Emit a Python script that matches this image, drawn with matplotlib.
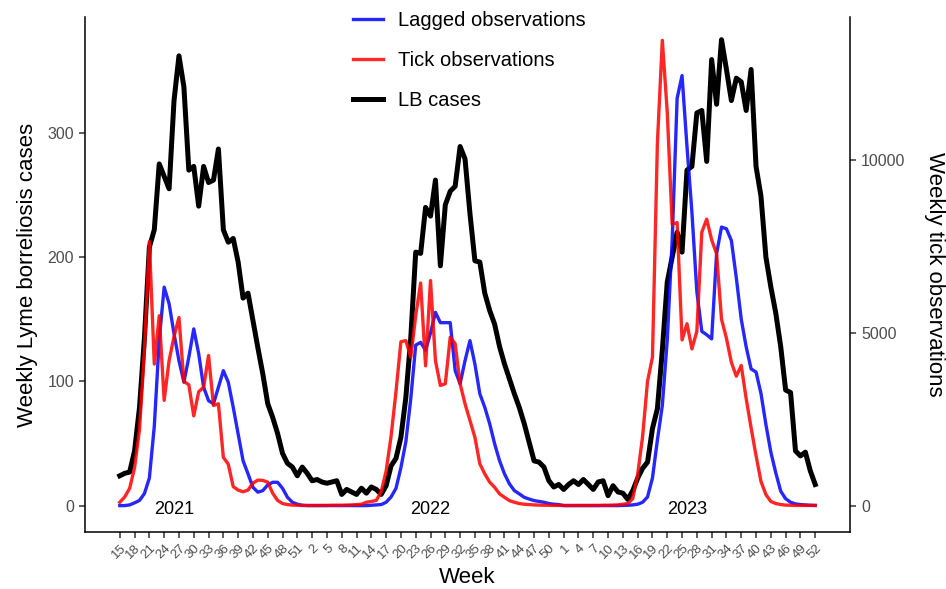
import numpy as np
import matplotlib
matplotlib.use("Agg")
import matplotlib.pyplot as plt

plt.rcParams['font.family'] = ['Liberation Sans', 'DejaVu Sans']

# ==== Données (semaines 15/2021 -> 52/2023) ====
years = [2021] * 38 + [2022] * 52 + [2023] * 52
weeks = list(range(15, 53)) + list(range(1, 53)) + list(range(1, 53))

# Cas hebdomadaires de borréliose de Lyme (axe gauche)
lb_cases = [
    24, 26, 27, 44, 79, 135, 208, 222, 275, 265,
    255, 326, 362, 337, 270, 273, 241, 273, 260, 262,
    287, 222, 212, 215, 196, 167, 171, 149, 127, 106,
    82, 71, 58, 42, 34, 31, 24, 31,
    26, 20, 21, 19, 18, 19, 20, 9, 13, 11,
    9, 14, 10, 15, 13, 9, 16, 32, 38, 55,
    87, 135, 204, 203, 240, 233, 262, 193, 242, 253,
    257, 289, 279, 235, 197, 196, 171, 157, 146, 128,
    114, 102, 90, 79, 66, 51, 36, 35, 31, 20,
    15, 17,
    13, 17, 20, 17, 21, 17, 13, 19, 20, 8,
    16, 11, 10, 5, 12, 22, 30, 35, 62, 78,
    125, 180, 200, 220, 204, 270, 273, 316, 318, 277,
    359, 323, 375, 351, 326, 344, 341, 318, 351, 273,
    249, 200, 176, 155, 128, 93, 91, 44, 40, 43,
    28, 17,
]

# Observations de tiques (axe droit)
tick_obs = [
    97, 250, 500, 1100, 2200, 4500, 7650, 4100, 5500, 3050,
    4200, 4900, 5450, 3600, 3500, 2600, 3300, 3430, 4350, 2900,
    2950, 1400, 1200, 550, 450, 400, 450, 650, 740, 730,
    680, 360, 150, 60, 30, 15, 10, 5,
    5, 5, 5, 5, 5, 10, 10, 10, 15, 20,
    30, 40, 97, 120, 150, 400, 1000, 2000, 3300, 4750,
    4780, 4300, 5500, 6450, 4050, 6520, 4200, 3480, 3530, 4880,
    4690, 3530, 2950, 2460, 1980, 1210, 920, 680, 530, 340,
    240, 145, 97, 60, 40, 30, 20, 15, 10, 10,
    5, 5,
    5, 5, 5, 5, 5, 5, 5, 5, 10, 10,
    15, 20, 40, 60, 200, 900, 2000, 3600, 4300, 10500,
    13480, 11400, 8150, 8200, 4800, 5270, 4540, 5050, 7920, 8300,
    7700, 7300, 5400, 4850, 4150, 3750, 4060, 3100, 2250, 1450,
    700, 320, 120, 60, 30, 15, 10, 5, 5, 5,
    5, 5,
]

# Observations décalées (axe droit)
lagged_obs = [
    0, 0, 20, 80, 150, 350, 800, 2300, 4800, 6330,
    5850, 4980, 4200, 3575, 4300, 5120, 4400, 3430, 3040, 2950,
    3430, 3910, 3575, 2850, 2080, 1300, 920, 530, 390, 435,
    600, 676, 676, 500, 240, 97, 40, 10,
    0, 0, 0, 0, 0, 0, 0, 0, 0, 0,
    0, 0, 0, 10, 20, 30, 97, 250, 500, 1100,
    1850, 3100, 4650, 4730, 4500, 5000, 5600, 5300, 5300, 5300,
    3910, 3530, 4200, 4780, 4100, 3240, 2850, 2370, 1790, 1300,
    920, 630, 435, 340, 240, 190, 145, 120, 97, 60,
    40, 30,
    0, 0, 0, 0, 0, 0, 0, 0, 0, 0,
    0, 0, 5, 10, 20, 40, 97, 250, 800, 1900,
    2900, 4800, 7700, 11800, 12460, 10400, 8500, 6200, 5050, 4950,
    4830, 7300, 8070, 8020, 7680, 6600, 5400, 4600, 3960, 3870,
    3250, 2350, 1550, 950, 420, 200, 97, 50, 30, 20,
    10, 5,
]

scale = 36  # rapport axe droit / axe gauche

x = np.arange(len(weeks))

fig = plt.figure(figsize=(9.46, 5.89), dpi=100)
ax = fig.add_axes([85 / 946, 1 - 531.7 / 589, 765 / 946, 514.4 / 589])
ax2 = ax.twinx()

l_lb, = ax.plot(x, lb_cases, color='black', lw=3.6, label='LB cases')
l_lag, = ax2.plot(x, lagged_obs, color='blue', alpha=0.85, lw=2.4, label='Lagged observations')
l_tick, = ax2.plot(x, tick_obs, color='red', alpha=0.85, lw=2.4, label='Tick observations')

ax.set_xlim(-7.05, len(x) - 1 + 7.05)
ax.set_ylim(-21, 393)
ax2.set_ylim(-21 * scale, 393 * scale)

for a in (ax, ax2):
    a.spines['top'].set_visible(False)
    for s in a.spines.values():
        s.set_linewidth(1.1)
    a.tick_params(length=4.5, width=1.1, color='#333333', labelcolor='#4D4D4D', labelsize=11.5)
ax.spines['right'].set_visible(False)
ax2.spines['left'].set_visible(False)
ax2.spines['bottom'].set_visible(False)

ax.set_yticks([0, 100, 200, 300])
ax2.set_yticks([0, 5000, 10000])
ax.set_xticks(x[::3])
ax.set_xticklabels([str(w) for w in weeks[::3]], rotation=45, ha='right',
                   rotation_mode='anchor', fontsize=9.5, color='#4D4D4D')
ax.tick_params(axis='x', pad=3)

ax.set_xlabel('Week', fontsize=16, labelpad=4.5)
ax.set_ylabel('Weekly Lyme borreliosis cases', fontsize=16, labelpad=7)
ax2.set_ylabel('Weekly tick observations', fontsize=16, rotation=270, va='bottom', labelpad=13)

# Étiquettes des années (semaine 26)
for yr in (2021, 2022, 2023):
    i26 = [i for i in range(len(x)) if years[i] == yr and weeks[i] == 26][0]
    ax.text(i26, -3, str(yr), ha='center', va='center', fontsize=13)

fig.legend(handles=[l_lag, l_tick, l_lb], loc='upper left',
           bbox_to_anchor=(353 / 946, 1 - 11 / 589), frameon=False,
           fontsize=14.5, handlelength=1.5, handletextpad=0.75,
           labelspacing=1.04, borderpad=0, borderaxespad=0)

fig.savefig('out.png', dpi=100)
